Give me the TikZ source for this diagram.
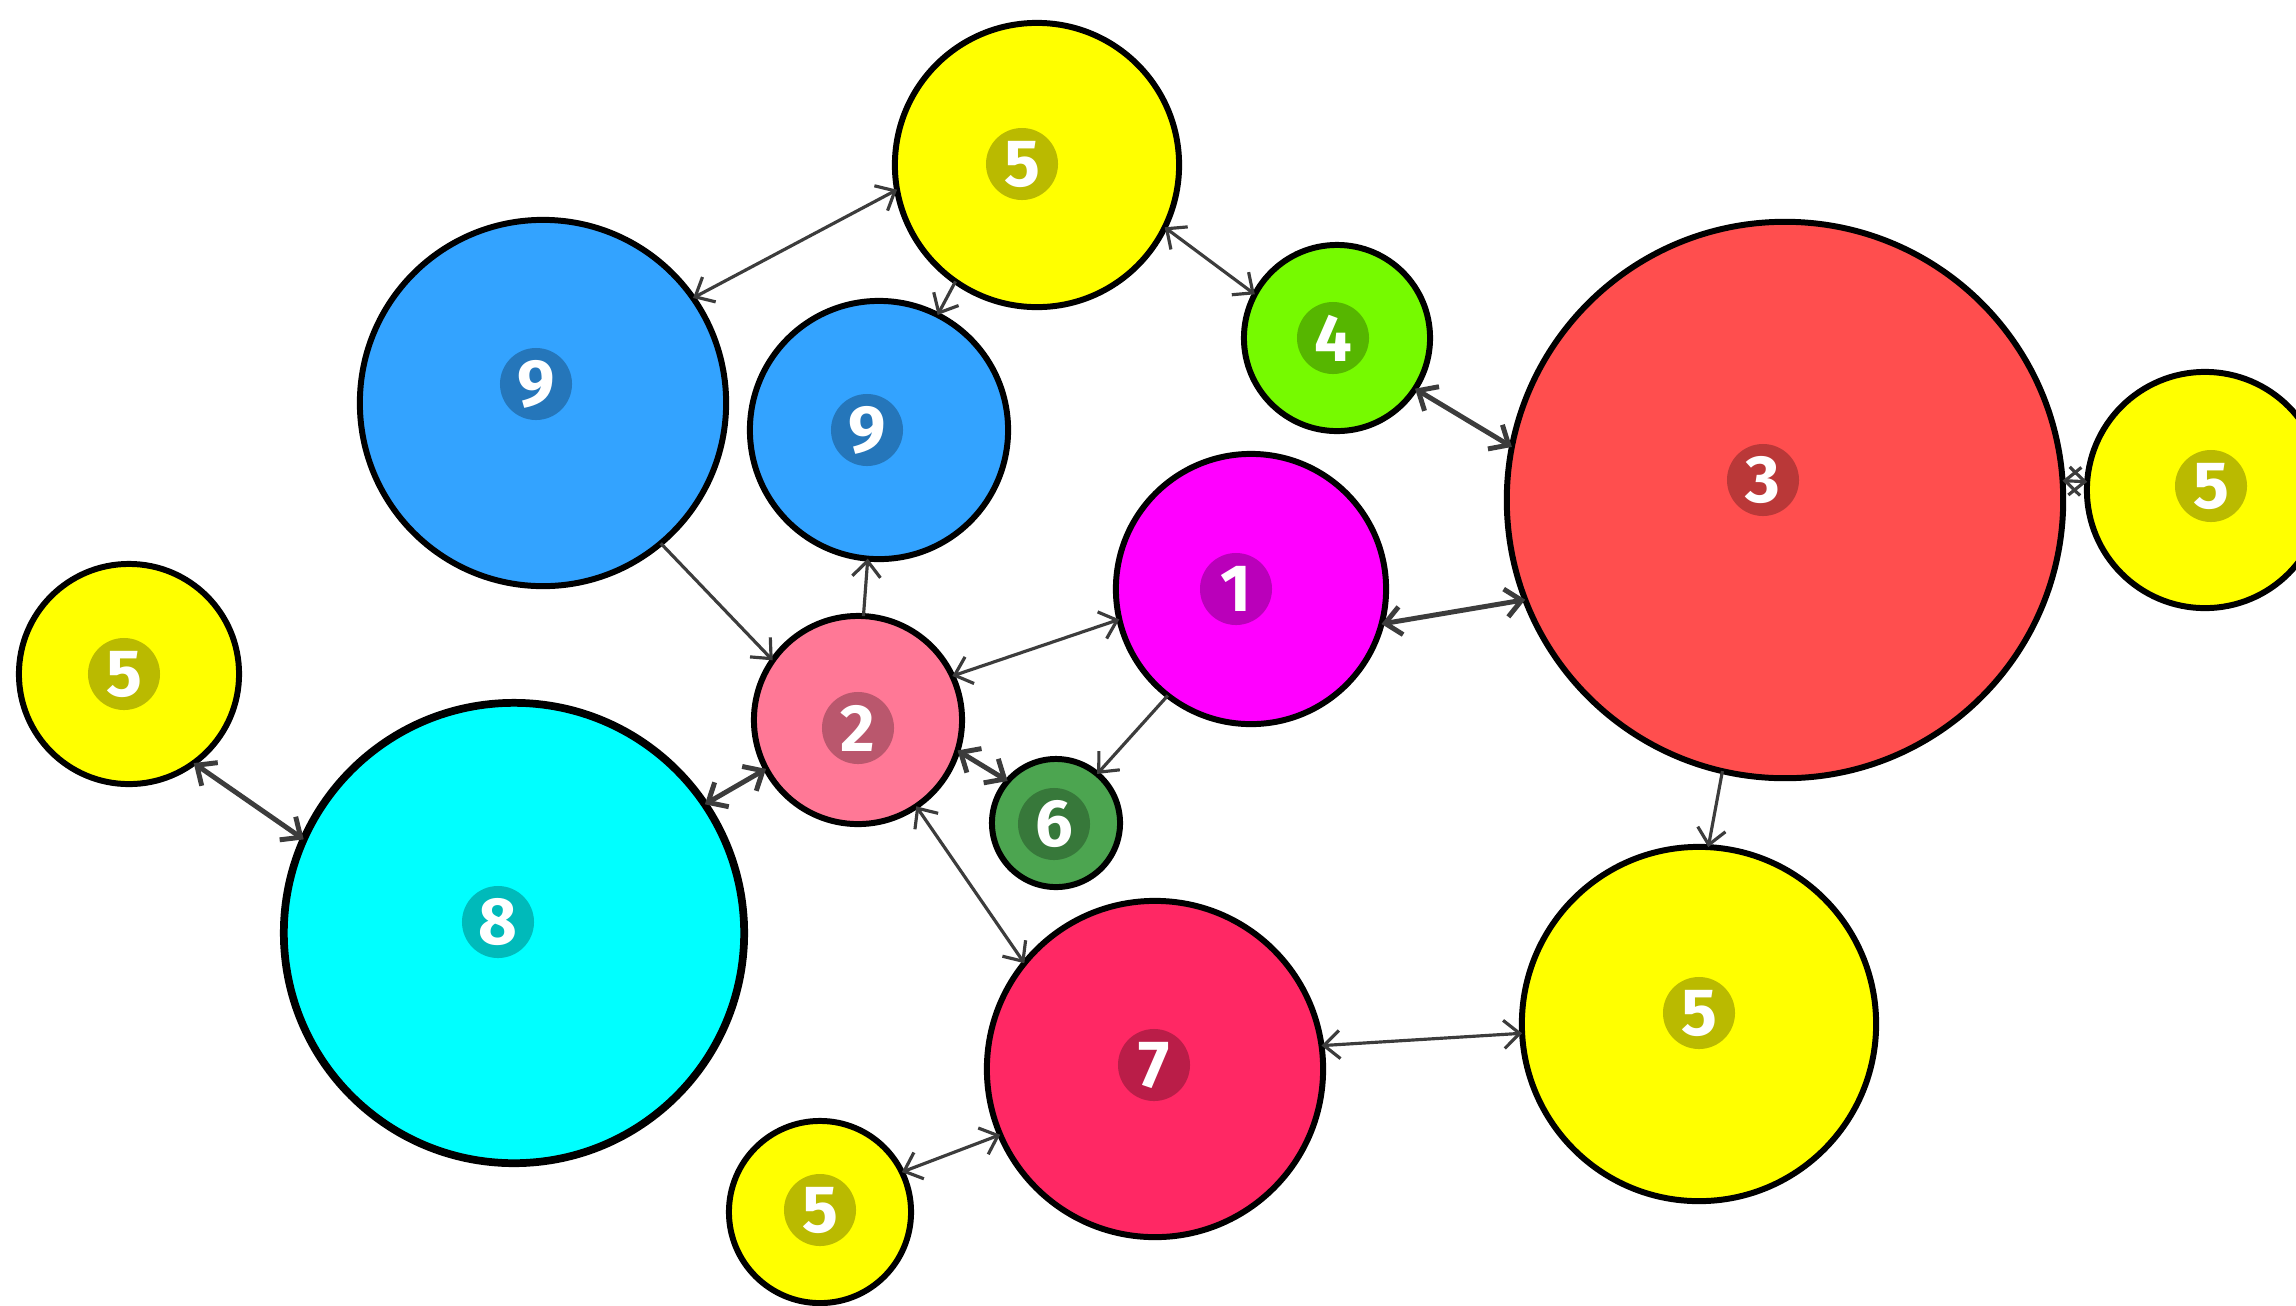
\documentclass[tikz,border=0pt]{standalone}
\usepackage{fontspec}
\setmainfont{Fira Sans}
\usetikzlibrary{arrows.meta}
\definecolor{cyel}{RGB}{255,255,0}
\definecolor{cblue}{RGB}{51,163,255}
\definecolor{clime}{RGB}{118,250,0}
\definecolor{cred}{RGB}{255,78,78}
\definecolor{cmag}{RGB}{255,0,255}
\definecolor{cpink}{RGB}{255,120,150}
\definecolor{cgreen}{RGB}{76,165,80}
\definecolor{ccyan}{RGB}{0,255,255}
\definecolor{ccrim}{RGB}{255,40,100}
\definecolor{cedge}{RGB}{60,60,60}
\tikzset{
  bubble/.style n args={2}{circle, draw=black, line width=1.7pt, fill=#1, minimum size=#2*0.02cm, inner sep=0pt, outer sep=0pt},
  tag/.style={circle, fill=black, fill opacity=0.27, text opacity=1, text=white, minimum size=0.72cm, inner sep=0pt, font=\fontsize{19}{19}\selectfont\bfseries},
  link/.style={draw=cedge, line width=0.9pt, {Straight Barb[length=4.5pt,width=8pt]}-{Straight Barb[length=4.5pt,width=8pt]}},
  linkone/.style={draw=cedge, line width=0.9pt, -{Straight Barb[length=4.5pt,width=8pt]}},
  heavy/.style={line width=1.4pt}
}
\begin{document}
\begin{tikzpicture}[x=0.01cm,y=-0.01cm]
\useasboundingbox (0,0) rectangle (2296,1305);
\fill[white] (0,0) rectangle (2296,1305);
% circles
\node[bubble={cyel}{142}] (y5t) at (1037,165) {};
\node[bubble={cblue}{183}] (b9L) at (543,403) {};
\node[bubble={cblue}{129}] (b9s) at (879,430) {};
\node[bubble={clime}{93}] (g4) at (1337,338) {};
\node[bubble={cred}{278}] (r3) at (1785,500) {};
\node[bubble={cyel}{118}] (y5r) at (2205,490) {};
\node[bubble={cmag}{135}] (m1) at (1251,589) {};
\node[bubble={cyel}{110}] (y5l) at (129,674) {};
\node[bubble={cpink}{104}] (p2) at (858,720) {};
\node[bubble={cgreen}{64}] (g6) at (1056,823) {};
\node[bubble={ccyan}{230}, line width=2.2pt] (c8) at (514,933) {};
\node[bubble={ccrim}{168}] (k7) at (1155,1069) {};
\node[bubble={cyel}{177}] (y5br) at (1699,1024) {};
\node[bubble={cyel}{91}] (y5b) at (820,1212) {};
% labels
\node[tag] (ly5t) at (1022,164) {5};
\node[tag] (lb9L) at (536,384) {9};
\node[tag] (lb9s) at (867,430) {9};
\node[tag] (lg4) at (1333,338) {4};
\node[tag] (lr3) at (1763,480) {3};
\node[tag] (ly5r) at (2211,486) {5};
\node[tag] (lm1) at (1236,589) {1};
\node[tag] (ly5l) at (124,674) {5};
\node[tag] (lp2) at (858,728) {2};
\node[tag] (lg6) at (1054,824) {6};
\node[tag] (lc8) at (498,922) {8};
\node[tag] (lk7) at (1154,1065) {7};
\node[tag] (ly5br) at (1699,1013) {5};
\node[tag] (ly5b) at (820,1210) {5};
% connectors
\draw[link] (y5t.190) -- (b9L.35);
\draw[linkone] (y5t.235) -- (b9s.63);
\draw[link] (y5t.334) -- (g4.152);
\draw[link, heavy] (g4.327) -- (r3.169);
\draw[link, heavy] (m1.345) -- (r3.201);
\draw[link] (r3.4) -- (y5r.176);
\draw[linkone] (r3.257) -- (y5br.87);
\draw[linkone] (b9L.310) -- (p2.145);
\draw[linkone] (p2.87) -- (b9s.265);
\draw[link] (p2.25) -- (m1.193);
\draw[linkone] (m1.232) -- (g6.50);
\draw[link, heavy] (p2.343) -- (g6.139);
\draw[link, heavy] (p2.208) -- (c8.34);
\draw[link] (p2.304) -- (k7.141);
\draw[link, heavy] (y5l.306) -- (c8.156);
\draw[link] (k7.8) -- (y5br.183);
\draw[link] (y5b.26) -- (k7.203);
\end{tikzpicture}
\end{document}
